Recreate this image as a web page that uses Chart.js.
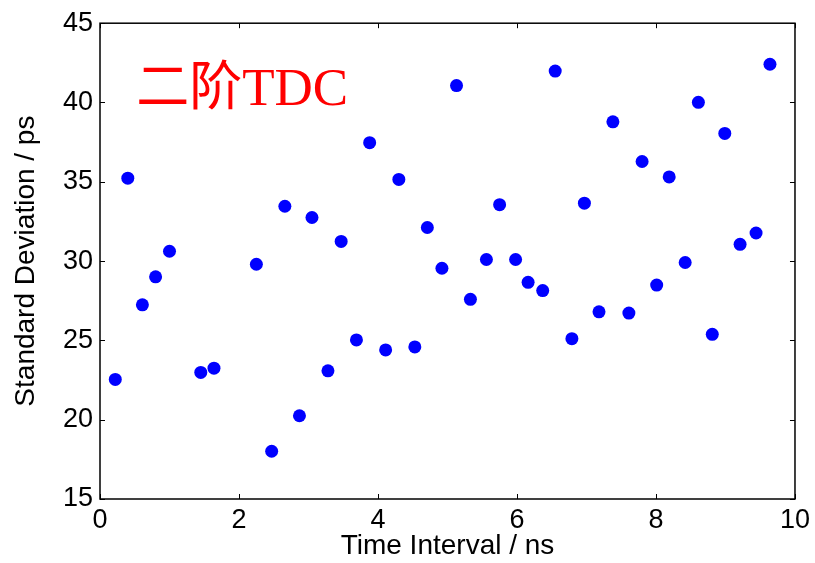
<!DOCTYPE html>
<html>
<head>
<meta charset="utf-8">
<script src="https://cdn.jsdelivr.net/npm/chart.js@4"></script>
<style>
  html, body { margin: 0; padding: 0; background: #fff; }
  #wrap { width: 815px; height: 563px; position: relative; }
</style>
</head>
<body>
<div id="wrap"><canvas id="scatterChart"></canvas></div>
<script>
'use strict';

// time interval (ns) and standard deviation (ps)
var timeInterval = [0.22, 0.40, 0.61, 0.80, 1.00, 1.45, 1.64, 2.25, 2.47, 2.66,
    2.87, 3.05, 3.28, 3.47, 3.69, 3.88, 4.11, 4.30, 4.53, 4.71,
    4.92, 5.13, 5.33, 5.56, 5.75, 5.98, 6.16, 6.37, 6.55, 6.79,
    6.97, 7.18, 7.38, 7.61, 7.80, 8.01, 8.19, 8.42, 8.61, 8.81,
    8.99, 9.21, 9.44, 9.64];
var stdDev = [22.54, 35.23, 27.24, 29.01, 30.62, 22.98, 23.25, 29.80, 18.01, 33.46,
    20.25, 32.75, 23.08, 31.24, 25.03, 37.47, 24.40, 35.15, 24.59, 32.12,
    29.55, 41.07, 27.59, 30.10, 33.56, 30.10, 28.66, 28.14, 41.98, 25.11,
    33.65, 26.80, 38.78, 26.72, 36.28, 28.49, 35.31, 29.91, 40.01, 25.38,
    38.05, 31.06, 31.77, 42.41];

var xTicks = [0, 2, 4, 6, 8, 10];
var yTicks = [15, 20, 25, 30, 35, 40, 45];
var labelText = '二阶TDC';

var points = [];
for (var i = 0; i < timeInterval.length; i++) {
    points.push({ x: timeInterval[i], y: stdDev[i] });
}

var tickFont = { family: 'Liberation Sans, Arial, sans-serif', size: 27 };
var titleFont = { family: 'Liberation Sans, Arial, sans-serif', size: 28 };

// matlab style box with inward ticks + the red label
var boxPlugin = {
    id: 'matlabBox',
    afterDraw: function(chart) {
        var ctx = chart.ctx;
        var a = chart.chartArea;
        var xs = chart.scales.x;
        var ys = chart.scales.y;
        ctx.save();
        ctx.strokeStyle = '#000';
        ctx.lineWidth = 1.5;
        ctx.strokeRect(a.left, a.top, a.right - a.left, a.bottom - a.top);
        ctx.lineWidth = 1;
        var len = 5;
        ctx.beginPath();
        xTicks.forEach(function(v) {
            var px = Math.round(xs.getPixelForValue(v)) + 0.5;
            ctx.moveTo(px, a.bottom); ctx.lineTo(px, a.bottom - len);
            ctx.moveTo(px, a.top); ctx.lineTo(px, a.top + len);
        });
        yTicks.forEach(function(v) {
            var py = Math.round(ys.getPixelForValue(v)) + 0.5;
            ctx.moveTo(a.left, py); ctx.lineTo(a.left + len, py);
            ctx.moveTo(a.right, py); ctx.lineTo(a.right - len, py);
        });
        ctx.stroke();

        ctx.fillStyle = '#ff0000';
        ctx.font = '53px "Liberation Serif", "Noto Sans CJK SC", serif';
        ctx.textBaseline = 'alphabetic';
        ctx.fillText(labelText, xs.getPixelForValue(0.52), ys.getPixelForValue(39.85));
        ctx.restore();
    }
};

new Chart(document.getElementById('scatterChart'), {
    type: 'scatter',
    data: {
        datasets: [{
            label: 'Standard Deviation',
            data: points,
            backgroundColor: '#0000ff',
            borderWidth: 0,
            pointRadius: 6.5,
            pointHoverRadius: 6.5
        }]
    },
    options: {
        responsive: true,
        maintainAspectRatio: false,
        animation: false,
        layout: {
            padding: { left: 0, top: 19, right: 19, bottom: 0 }
        },
        plugins: {
            legend: { display: false },
            tooltip: { enabled: false }
        },
        scales: {
            x: {
                type: 'linear',
                min: 0,
                max: 10,
                grid: { display: false, drawTicks: false },
                border: { display: false },
                afterBuildTicks: function(scale) {
                    scale.ticks = xTicks.map(function(v) { return { value: v }; });
                },
                afterFit: function(scale) { scale.height = 64; },
                ticks: { color: '#000', font: tickFont, padding: 5, maxRotation: 0 },
                title: {
                    display: true,
                    text: 'Time Interval / ns',
                    color: '#000',
                    font: titleFont,
                    padding: { top: 0, bottom: 0 }
                }
            },
            y: {
                type: 'linear',
                min: 15,
                max: 45,
                grid: { display: false, drawTicks: false },
                border: { display: false },
                afterBuildTicks: function(scale) {
                    scale.ticks = yTicks.map(function(v) { return { value: v }; });
                },
                afterFit: function(scale) { scale.width = 100; },
                ticks: { color: '#000', font: tickFont, padding: 7 },
                title: {
                    display: true,
                    text: 'Standard Deviation / ps',
                    color: '#000',
                    font: titleFont,
                    padding: { top: 9, bottom: 0 }
                }
            }
        }
    },
    plugins: [boxPlugin]
});
</script>
</body>
</html>
